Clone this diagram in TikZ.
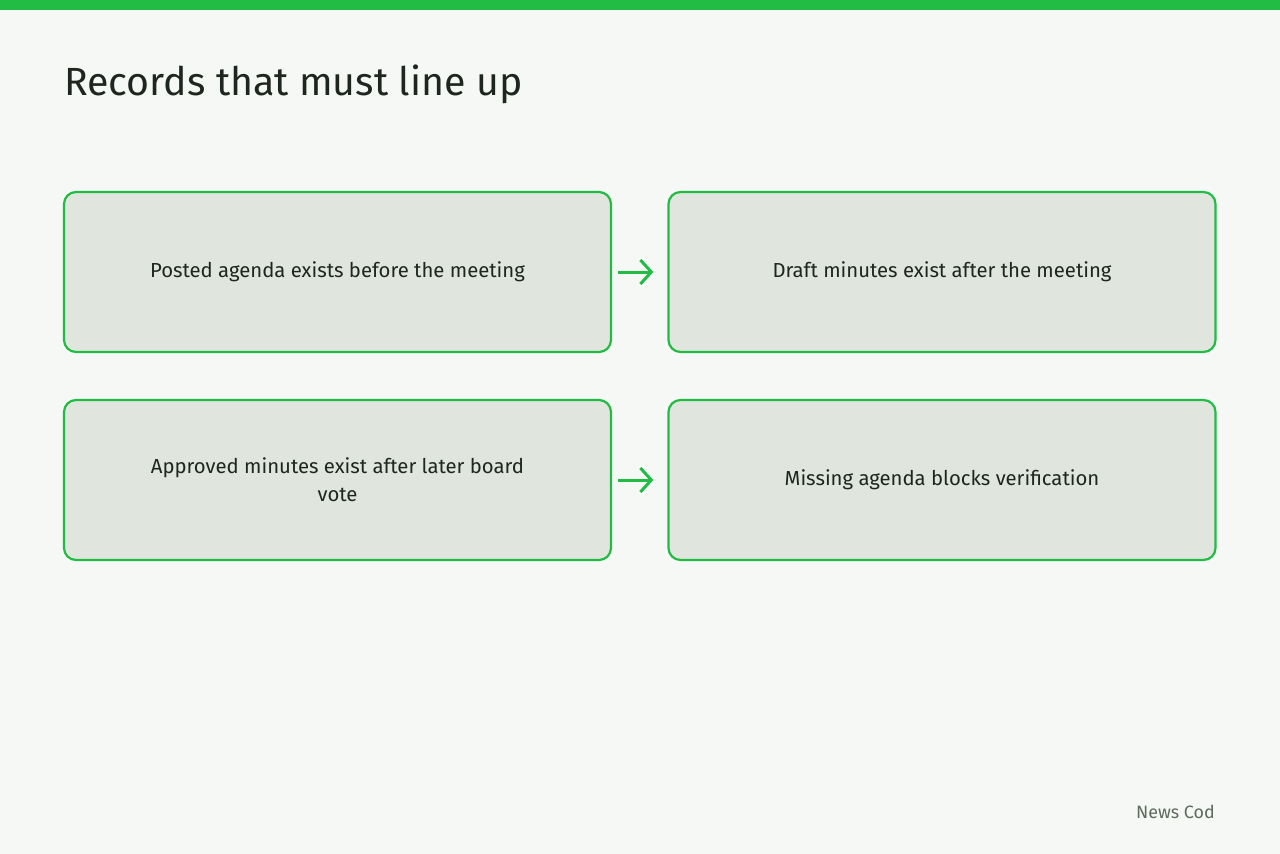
\documentclass[tikz,border=0pt]{standalone}
\usepackage{fontspec}
\setmainfont{Fira Sans}
\usetikzlibrary{arrows.meta}

\definecolor{bgpage}{HTML}{F5F8F5}
\definecolor{recgreen}{HTML}{22BB44}
\definecolor{recfill}{HTML}{E0E5DE}
\definecolor{rectext}{HTML}{1E261F}
\definecolor{recgray}{HTML}{5E6B5E}

\begin{document}
\begin{tikzpicture}[x=1pt, y=-1pt,
	record/.style={draw=recgreen, fill=recfill, line width=2.2pt, rounded corners=12pt,
		minimum width=547pt, minimum height=160pt, align=center, text=rectext,
		font=\fontsize{20.3}{28}\selectfont},
	link/.style={draw=recgreen, line width=3pt, -{Straight Barb[length=11pt, width=24pt]},
		shorten <=6pt, shorten >=14pt}]
	% Page and top bar
	\fill[bgpage] (0,0) rectangle (1280,854);
	\fill[recgreen] (0,0) rectangle (1280,10);
	\useasboundingbox (0,0) rectangle (1280,854);

	% Title
	\node[anchor=base west, inner sep=0pt, text=rectext, font=\fontsize{39.3}{44}\selectfont]
		(title) at (64,95) {Records that must line up};

	% Records
	\node[record] (agenda) at (337.5,272) {Posted agenda exists before the meeting};
	\node[record] (draft) at (942,272) {Draft minutes exist after the meeting};
	\node[record] (approved) at (337.5,480) {Approved minutes exist after later board\\vote};
	\node[record] (missing) at (942,480) {Missing agenda blocks verification};

	% Arrows
	\draw[link] (agenda.east) -- (draft.west);
	\draw[link] (approved.east) -- (missing.west);

	% Footer
	\node[anchor=base east, inner sep=0pt, text=recgray, font=\fontsize{17.9}{20}\selectfont]
		(source) at (1215,818) {News Cod};
\end{tikzpicture}
\end{document}
